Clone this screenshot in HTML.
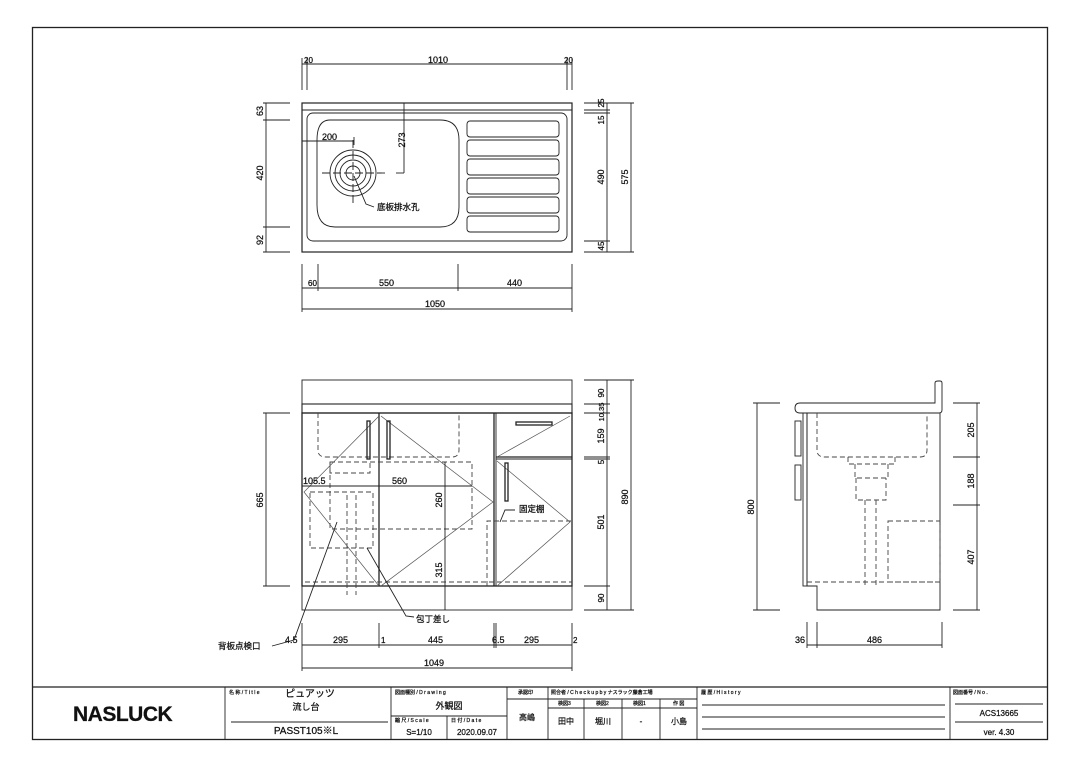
<!DOCTYPE html>
<html><head><meta charset="utf-8"><style>
html,body{margin:0;padding:0;background:#fff}
svg{display:block}
text{font-family:"Liberation Sans","Noto Sans CJK JP",sans-serif;fill:#111;stroke:#111;stroke-width:0.25}
</style></head><body>
<svg width="1080" height="764" viewBox="0 0 1080 764" xmlns="http://www.w3.org/2000/svg">
<g fill="none" stroke="#222" stroke-width="0.9">
<rect x="32.5" y="27.5" width="1015" height="712" stroke-width="1.3"/>
<line x1="32" y1="687" x2="1047" y2="687" stroke-width="1.3"/>

<rect x="302" y="103" width="270" height="149" stroke-width="1.2"/>
<line x1="302" y1="110" x2="572" y2="110"/>
<rect x="307" y="113" width="260" height="128" rx="6"/>
<path d="M330 120 H440 Q459 120 459 140 V207 Q459 227 440 227 H335 Q317 227 317 205 V140 Q317 120 330 120 Z"/>
<circle cx="353" cy="173" r="23"/><circle cx="353" cy="173" r="18"/><circle cx="353" cy="173" r="13"/><circle cx="353" cy="173" r="7"/>
<line x1="322" y1="173" x2="386" y2="173" stroke-dasharray="8,3"/>
<line x1="353" y1="140" x2="353" y2="205" stroke-dasharray="8,3"/>
<line x1="396" y1="173" x2="404" y2="173"/>
<g>
<rect x="467" y="121" width="92" height="16" rx="3"/><rect x="467" y="140" width="92" height="16" rx="3"/>
<rect x="467" y="159" width="92" height="16" rx="3"/><rect x="467" y="178" width="92" height="16" rx="3"/>
<rect x="467" y="197" width="92" height="16" rx="3"/><rect x="467" y="216" width="92" height="16" rx="3"/>
</g>
<path d="M354 176 L366 204 L374 207"/>
<line x1="302" y1="141" x2="354" y2="141"/><line x1="354" y1="137" x2="354" y2="145"/>
<line x1="404" y1="103" x2="404" y2="173"/>
<line x1="302" y1="64" x2="572" y2="64"/>
<line x1="302" y1="58" x2="302" y2="90"/><line x1="307" y1="58" x2="307" y2="90"/>
<line x1="567" y1="58" x2="567" y2="90"/><line x1="572" y1="58" x2="572" y2="90"/>
<line x1="266" y1="103" x2="266" y2="252"/>
<line x1="263" y1="103" x2="290" y2="103"/><line x1="263" y1="120" x2="290" y2="120"/>
<line x1="263" y1="227" x2="290" y2="227"/><line x1="263" y1="252" x2="290" y2="252"/>
<line x1="607" y1="103" x2="607" y2="252"/><line x1="631" y1="103" x2="631" y2="252"/>
<line x1="584" y1="103" x2="634" y2="103"/><line x1="584" y1="110" x2="610" y2="110"/>
<line x1="584" y1="113" x2="610" y2="113"/><line x1="584" y1="241" x2="610" y2="241"/>
<line x1="584" y1="252" x2="634" y2="252"/>
<line x1="302" y1="288" x2="572" y2="288"/><line x1="302" y1="309" x2="572" y2="309"/>
<line x1="302" y1="264" x2="302" y2="312"/><line x1="318" y1="264" x2="318" y2="291"/>
<line x1="458" y1="264" x2="458" y2="291"/><line x1="572" y1="264" x2="572" y2="312"/>

<rect x="302" y="380" width="270" height="230"/>
<rect x="302" y="404" width="270" height="9" stroke-width="1.1"/>
<rect x="302" y="413" width="270" height="173" stroke-width="1.3"/>
<line x1="379" y1="413" x2="379" y2="586" stroke-width="1.3"/>
<line x1="494" y1="413" x2="494" y2="586" stroke-width="1.3"/>
<line x1="496" y1="413" x2="496" y2="586"/>
<line x1="496" y1="457" x2="572" y2="457" stroke-width="1.3"/>
<line x1="496" y1="459" x2="572" y2="459"/>
<g stroke-dasharray="5,3" stroke="#444">
<path d="M318 413 V450 Q318 457 326 457 H452 Q459 457 459 450 V413"/>
<rect x="330" y="462" width="142" height="67"/>
<rect x="310" y="492" width="63" height="56"/>
<line x1="305" y1="582" x2="572" y2="582"/>
<path d="M487 586 V521 H572"/>
<line x1="347" y1="495" x2="347" y2="595"/><line x1="356" y1="495" x2="356" y2="595"/>
<path d="M330 462 V473 H370 V462"/>
</g>
<g stroke="#555" stroke-width="0.7">
<path d="M379 416 L304 492 L379 586"/>
<path d="M381 416 L493 502 L381 586"/>
<path d="M570 416 L497 457"/>
<path d="M497 461 L570 522 L497 586"/>
</g>
<g stroke-width="1.3">
<rect x="367" y="421" width="3" height="38"/><rect x="387" y="421" width="3" height="38"/>
<rect x="505" y="463" width="3" height="38"/><rect x="516" y="422" width="36" height="3"/>
</g>
<path d="M337 522 L294 640 L272 646"/>
<path d="M367 548 L406 616 L414 617"/>
<path d="M500 522 L505 510 L515 510"/>
<line x1="302" y1="486" x2="472" y2="486"/>
<line x1="445" y1="462" x2="445" y2="610"/>
<line x1="266" y1="413" x2="266" y2="586"/>
<line x1="263" y1="413" x2="290" y2="413"/><line x1="263" y1="586" x2="290" y2="586"/>
<line x1="607" y1="380" x2="607" y2="610"/><line x1="631" y1="380" x2="631" y2="610"/>
<line x1="584" y1="380" x2="634" y2="380"/><line x1="584" y1="404" x2="610" y2="404"/>
<line x1="584" y1="413" x2="610" y2="413"/><line x1="584" y1="457" x2="610" y2="457"/>
<line x1="584" y1="459" x2="610" y2="459"/><line x1="584" y1="586" x2="610" y2="586"/>
<line x1="584" y1="610" x2="634" y2="610"/>
<line x1="302" y1="645" x2="572" y2="645"/><line x1="302" y1="668" x2="572" y2="668"/>
<line x1="302" y1="623" x2="302" y2="671"/><line x1="379" y1="623" x2="379" y2="648"/>
<line x1="494" y1="623" x2="494" y2="648"/><line x1="496" y1="623" x2="496" y2="648"/>
<line x1="572" y1="623" x2="572" y2="671"/>

<path d="M800 403 H935 V383 Q935 381 938 381 H940 Q942 381 942 383 V410 Q942 413 939 413 H800 Q795 413 795 408 Q795 403 800 403 Z"/>
<path d="M807 413 V586 H817 V610 H940 V413"/>
<rect x="803" y="413" width="4" height="173"/>
<rect x="795" y="421" width="6" height="35"/><rect x="795" y="465" width="6" height="35"/>
<g stroke-dasharray="5,3" stroke="#444">
<path d="M817 413 V450 Q817 457 825 457 H920 Q927 457 927 450 V413"/>
<path d="M848 457 V464 H895 V457"/>
<path d="M855 464 V478 H888 V464"/>
<path d="M856 478 V500 H886 V478"/>
<line x1="865" y1="500" x2="865" y2="588"/><line x1="876" y1="500" x2="876" y2="588"/>
<rect x="888" y="521" width="52" height="61"/>
<line x1="807" y1="582" x2="940" y2="582"/>
</g>
<line x1="757" y1="403" x2="757" y2="610"/>
<line x1="753" y1="403" x2="780" y2="403"/><line x1="753" y1="610" x2="780" y2="610"/>
<line x1="977" y1="403" x2="977" y2="610"/>
<line x1="953" y1="403" x2="980" y2="403"/><line x1="953" y1="457" x2="980" y2="457"/>
<line x1="953" y1="505" x2="980" y2="505"/><line x1="953" y1="610" x2="980" y2="610"/>
<line x1="807" y1="645" x2="942" y2="645"/>
<line x1="807" y1="622" x2="807" y2="648"/><line x1="817" y1="622" x2="817" y2="648"/>
<line x1="942" y1="622" x2="942" y2="648"/>

<line x1="225" y1="687" x2="225" y2="740"/>
<line x1="391" y1="687" x2="391" y2="740"/>
<line x1="391" y1="716" x2="507" y2="716"/>
<line x1="447" y1="716" x2="447" y2="740"/>
<line x1="231" y1="722" x2="388" y2="722"/>
<line x1="507" y1="687" x2="507" y2="740"/>
<line x1="507" y1="699" x2="697" y2="699"/>
<line x1="548" y1="687" x2="548" y2="740"/>
<line x1="548" y1="708" x2="697" y2="708"/>
<line x1="584" y1="699" x2="584" y2="740"/>
<line x1="622" y1="699" x2="622" y2="740"/>
<line x1="660" y1="699" x2="660" y2="740"/>
<line x1="697" y1="687" x2="697" y2="740"/>
<line x1="702" y1="705" x2="945" y2="705"/>
<line x1="702" y1="717" x2="945" y2="717"/>
<line x1="702" y1="729" x2="945" y2="729"/>
<line x1="950" y1="687" x2="950" y2="740"/>
<line x1="955" y1="704" x2="1043" y2="704"/>
<line x1="955" y1="722" x2="1043" y2="722"/>
</g>

<g font-size="9">
<text x="304" y="63" font-size="8">20</text>
<text x="428" y="63">1010</text>
<text x="564" y="63" font-size="8">20</text>
<text x="322" y="140">200</text>
<text x="377" y="210" font-size="8.5">底板排水孔</text>
<text x="308" y="286" font-size="8">60</text>
<text x="379" y="286">550</text>
<text x="507" y="286">440</text>
<text x="425" y="307">1050</text>
<text x="303" y="484">105.5</text>
<text x="392" y="484">560</text>
<text x="519" y="512" font-size="8.5">固定棚</text>
<text x="416" y="622" font-size="8.5">包丁差し</text>
<text x="218" y="649" font-size="8.5">背板点検口</text>
<text x="285" y="643">4.5</text>
<text x="333" y="643">295</text>
<text x="381" y="643" font-size="8">1</text>
<text x="428" y="643">445</text>
<text x="492" y="643">6.5</text>
<text x="524" y="643">295</text>
<text x="573" y="643" font-size="8">2</text>
<text x="424" y="666">1049</text>
<text x="795" y="643">36</text>
<text x="867" y="643">486</text>
</g>
<g font-size="9" text-anchor="middle">
<text transform="translate(405,140) rotate(-90)">273</text>
<text transform="translate(263,111) rotate(-90)">63</text>
<text transform="translate(263,173) rotate(-90)">420</text>
<text transform="translate(263,240) rotate(-90)">92</text>
<text transform="translate(604,103) rotate(-90)" font-size="8">25</text>
<text transform="translate(604,120) rotate(-90)" font-size="8">15</text>
<text transform="translate(604,177) rotate(-90)">490</text>
<text transform="translate(604,246) rotate(-90)" font-size="8">45</text>
<text transform="translate(628,177) rotate(-90)">575</text>
<text transform="translate(263,500) rotate(-90)">665</text>
<text transform="translate(604,393) rotate(-90)" font-size="8">90</text>
<text transform="translate(604,412) rotate(-90)" font-size="7.5">10.35</text>
<text transform="translate(604,436) rotate(-90)">159</text>
<text transform="translate(604,462) rotate(-90)" font-size="8">5</text>
<text transform="translate(604,522) rotate(-90)">501</text>
<text transform="translate(604,598) rotate(-90)" font-size="8">90</text>
<text transform="translate(628,497) rotate(-90)">890</text>
<text transform="translate(442,500) rotate(-90)">260</text>
<text transform="translate(442,570) rotate(-90)">315</text>
<text transform="translate(754,507) rotate(-90)">800</text>
<text transform="translate(974,430) rotate(-90)">205</text>
<text transform="translate(974,481) rotate(-90)">188</text>
<text transform="translate(974,557) rotate(-90)">407</text>
</g>
<text x="73" y="721" font-size="21" font-weight="bold" letter-spacing="-0.5" stroke="#111" stroke-width="0.8">NASLUCK</text>
<g font-size="5">
<text x="229" y="694">名 称 / T i t l e</text>
<text x="395" y="694">図面種別 / D r a w i n g</text>
<text x="395" y="722">縮 尺 / S c a l e</text>
<text x="451" y="722">日 付 / D a t e</text>
<text x="518" y="694">承認印</text>
<text x="551" y="694">照合者 / C h e c k  u p  b y  ナスラック藤倉工場</text>
<text x="558" y="705">検図3</text><text x="596" y="705">検図2</text><text x="633" y="705">検図1</text><text x="673" y="705">作 図</text>
<text x="701" y="694">履 歴 / H i s t o r y</text>
<text x="953" y="694">図面番号 / N o .</text>
</g>
<g font-size="9" text-anchor="middle">
<text x="310" y="697" font-size="10">ピュアッツ</text>
<text x="306" y="710">流し台</text>
<text x="306" y="734" font-size="10">PASST105※L</text>
<text x="449" y="709">外観図</text>
<text x="419" y="735" font-size="8">S=1/10</text>
<text x="477" y="735" font-size="8">2020.09.07</text>
<text x="527" y="720" font-size="8">高嶋</text>
<text x="566" y="724" font-size="8">田中</text>
<text x="603" y="724" font-size="8">堀川</text>
<text x="641" y="724" font-size="8">-</text>
<text x="679" y="724" font-size="8">小島</text>
<text x="999" y="716" font-size="8">ACS13665</text>
<text x="999" y="735" font-size="8">ver. 4.30</text>
</g>
</svg>
</body></html>
